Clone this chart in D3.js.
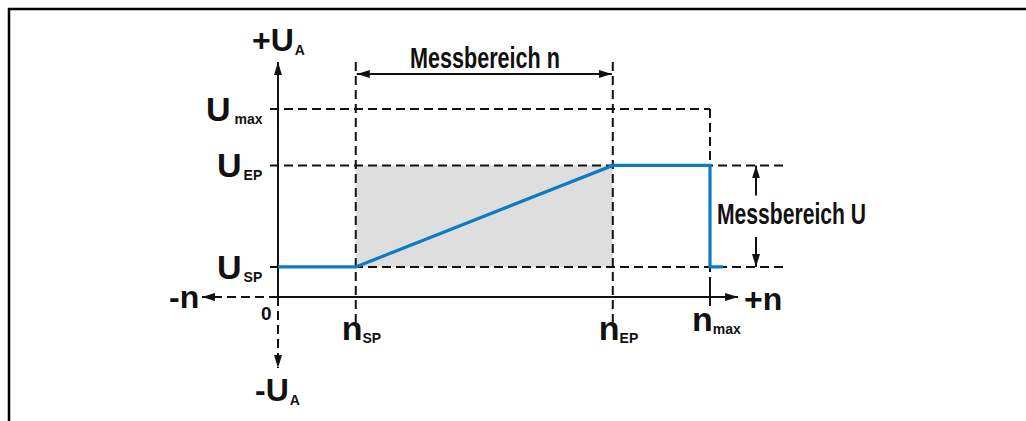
<!DOCTYPE html>
<html>
<head>
<meta charset="utf-8">
<script src="https://cdn.jsdelivr.net/npm/d3@7"></script>
<style>
  body { margin: 0; background: #fff; }
  text { font-family: "Liberation Sans", Arial, sans-serif; font-weight: bold; fill: #111; }
</style>
</head>
<body>
<script>
// n axis positions (n_max = 100)
const nNames = ['SP', 'EP', 'max'];
const nValues = [18, 77.5, 100];
// U axis levels (U_max = 100)
const uNames = ['SP', 'EP', 'max'];
const uValues = [16, 70, 100];
// output characteristic
const curveN = [0, 18, 77.5, 100, 100, 103];
const curveU = [16, 16, 70, 70, 16, 16];
// axis extents
const nRange = [-17.6, 106.5];
const uRange = [-37.8, 125];

const width = 1026, height = 421;

const x = d3.scaleLinear().domain([0, 100]).range([278, 710]);
const y = d3.scaleLinear().domain([0, 100]).range([297, 109]);

const svg = d3.select('body').append('svg')
  .attr('width', width)
  .attr('height', height);

const ink = '#111';
const dash = '9,5';
const sw = 2;

// arrow marker
svg.append('defs').append('marker')
  .attr('id', 'arr')
  .attr('viewBox', '0 0 13 8')
  .attr('refX', 13).attr('refY', 4)
  .attr('markerWidth', 13).attr('markerHeight', 8)
  .attr('markerUnits', 'userSpaceOnUse')
  .attr('orient', 'auto-start-reverse')
  .append('path')
  .attr('d', 'M0,0L13,4L0,8Z')
  .attr('fill', ink);

// frame
svg.append('path')
  .attr('d', `M9,${height}V9H${width}`)
  .attr('fill', 'none')
  .attr('stroke', '#000')
  .attr('stroke-width', 2.5);

// grey measuring area
svg.append('rect')
  .attr('x', x(nValues[0]))
  .attr('y', y(uValues[1]))
  .attr('width', x(nValues[1]) - x(nValues[0]))
  .attr('height', y(uValues[0]) - y(uValues[1]))
  .attr('fill', '#dedede');

// horizontal dashed guides
svg.append('g').selectAll('line')
  .data(uValues)
  .join('line')
  .attr('x1', x(0) - 8)
  .attr('x2', (d, i) => i === 2 ? x(100) : x(100) + 75)
  .attr('y1', d => y(d)).attr('y2', d => y(d))
  .attr('stroke', ink).attr('stroke-width', sw)
  .attr('stroke-dasharray', dash);

// vertical dashed guides
svg.append('g').selectAll('line')
  .data(nValues)
  .join('line')
  .attr('x1', d => x(d)).attr('x2', d => x(d))
  .attr('y1', (d, i) => i === 2 ? y(100) : y(125))
  .attr('y2', (d, i) => i === 2 ? y(0) : y(-13.5))
  .attr('stroke', ink).attr('stroke-width', sw)
  .attr('stroke-dasharray', dash);

// n_max tick
svg.append('line')
  .attr('x1', x(100)).attr('x2', x(100))
  .attr('y1', y(0) - 12).attr('y2', y(0) + 9)
  .attr('stroke', ink).attr('stroke-width', sw);

// axes
svg.append('line')
  .attr('x1', x(0)).attr('x2', x(nRange[1]))
  .attr('y1', y(0)).attr('y2', y(0))
  .attr('stroke', ink).attr('stroke-width', sw)
  .attr('marker-end', 'url(#arr)');
svg.append('line')
  .attr('x1', x(0)).attr('x2', x(nRange[0]))
  .attr('y1', y(0)).attr('y2', y(0))
  .attr('stroke', ink).attr('stroke-width', sw)
  .attr('stroke-dasharray', dash)
  .attr('marker-end', 'url(#arr)');
svg.append('line')
  .attr('x1', x(0)).attr('x2', x(0))
  .attr('y1', y(0) + 1).attr('y2', y(uRange[1]))
  .attr('stroke', ink).attr('stroke-width', sw)
  .attr('marker-end', 'url(#arr)');
svg.append('line')
  .attr('x1', x(0)).attr('x2', x(0))
  .attr('y1', y(0)).attr('y2', y(uRange[0]))
  .attr('stroke', ink).attr('stroke-width', sw)
  .attr('stroke-dasharray', dash)
  .attr('marker-end', 'url(#arr)');

// U_SP tick
svg.append('line')
  .attr('x1', x(0) - 3).attr('x2', x(0) + 8)
  .attr('y1', y(uValues[0])).attr('y2', y(uValues[0]))
  .attr('stroke', ink).attr('stroke-width', sw);

// characteristic curve
const pts = curveN.map((n, i) => [x(n), y(curveU[i])]);
svg.append('path')
  .attr('d', d3.line()(pts))
  .attr('fill', 'none')
  .attr('stroke', '#0a7bc4')
  .attr('stroke-width', 3.2)
  .attr('stroke-linejoin', 'miter');

// Messbereich n arrow
const arrN = y(125) + 12;
svg.append('line')
  .attr('x1', x(nValues[0]) + 1).attr('x2', x(nValues[1]) - 1)
  .attr('y1', arrN).attr('y2', arrN)
  .attr('stroke', ink).attr('stroke-width', sw)
  .attr('marker-start', 'url(#arr)')
  .attr('marker-end', 'url(#arr)');
svg.append('text')
  .attr('x', 410).attr('y', 68)
  .attr('font-size', 29)
  .attr('textLength', 150).attr('lengthAdjust', 'spacingAndGlyphs')
  .text('Messbereich n');

// Messbereich U arrow
const arrX = 756;
svg.append('line')
  .attr('x1', arrX).attr('x2', arrX)
  .attr('y1', y(uValues[1]) + 30).attr('y2', y(uValues[1]))
  .attr('stroke', ink).attr('stroke-width', sw)
  .attr('marker-end', 'url(#arr)');
svg.append('line')
  .attr('x1', arrX).attr('x2', arrX)
  .attr('y1', y(uValues[0]) - 30).attr('y2', y(uValues[0]))
  .attr('stroke', ink).attr('stroke-width', sw)
  .attr('marker-end', 'url(#arr)');
svg.append('text')
  .attr('x', 717).attr('y', 224)
  .attr('font-size', 29)
  .attr('textLength', 149).attr('lengthAdjust', 'spacingAndGlyphs')
  .text('Messbereich U');

// U labels
const uLab = svg.append('g').selectAll('text')
  .data(uValues)
  .join('text')
  .attr('x', (d, i) => i === 2 ? 206 : 217)
  .attr('y', d => y(d) + 12)
  .attr('font-size', 34);
uLab.append('tspan').text('U');
uLab.append('tspan')
  .attr('font-size', 14)
  .attr('dx', (d, i) => i === 2 ? 4 : 2)
  .attr('dy', 3)
  .text((d, i) => uNames[i]);

// n labels
const nLab = svg.append('g').selectAll('text')
  .data(nValues)
  .join('text')
  .attr('x', (d, i) => x(d) - (i === 2 ? 18 : 14))
  .attr('y', (d, i) => i === 2 ? 331 : 340)
  .attr('font-size', 34);
nLab.append('tspan').text('n');
nLab.append('tspan')
  .attr('font-size', 14)
  .attr('dx', 0)
  .attr('dy', 3)
  .text((d, i) => nNames[i]);

// axis ends
const plusU = svg.append('text').attr('x', 252).attr('y', 51).attr('font-size', 32);
plusU.append('tspan').text('+U');
plusU.append('tspan').attr('font-size', 14).attr('dx', 1).attr('dy', 4).text('A');

const minusU = svg.append('text').attr('x', 255).attr('y', 401).attr('font-size', 32);
minusU.append('tspan').text('-U');
minusU.append('tspan').attr('font-size', 14).attr('dx', 1).attr('dy', 4).text('A');

svg.append('text').attr('x', 744).attr('y', 310).attr('font-size', 32).text('+n');
svg.append('text').attr('x', 169).attr('y', 308).attr('font-size', 32).text('-n');
svg.append('text').attr('x', 261).attr('y', 320).attr('font-size', 19).text('0');
</script>
</body>
</html>
